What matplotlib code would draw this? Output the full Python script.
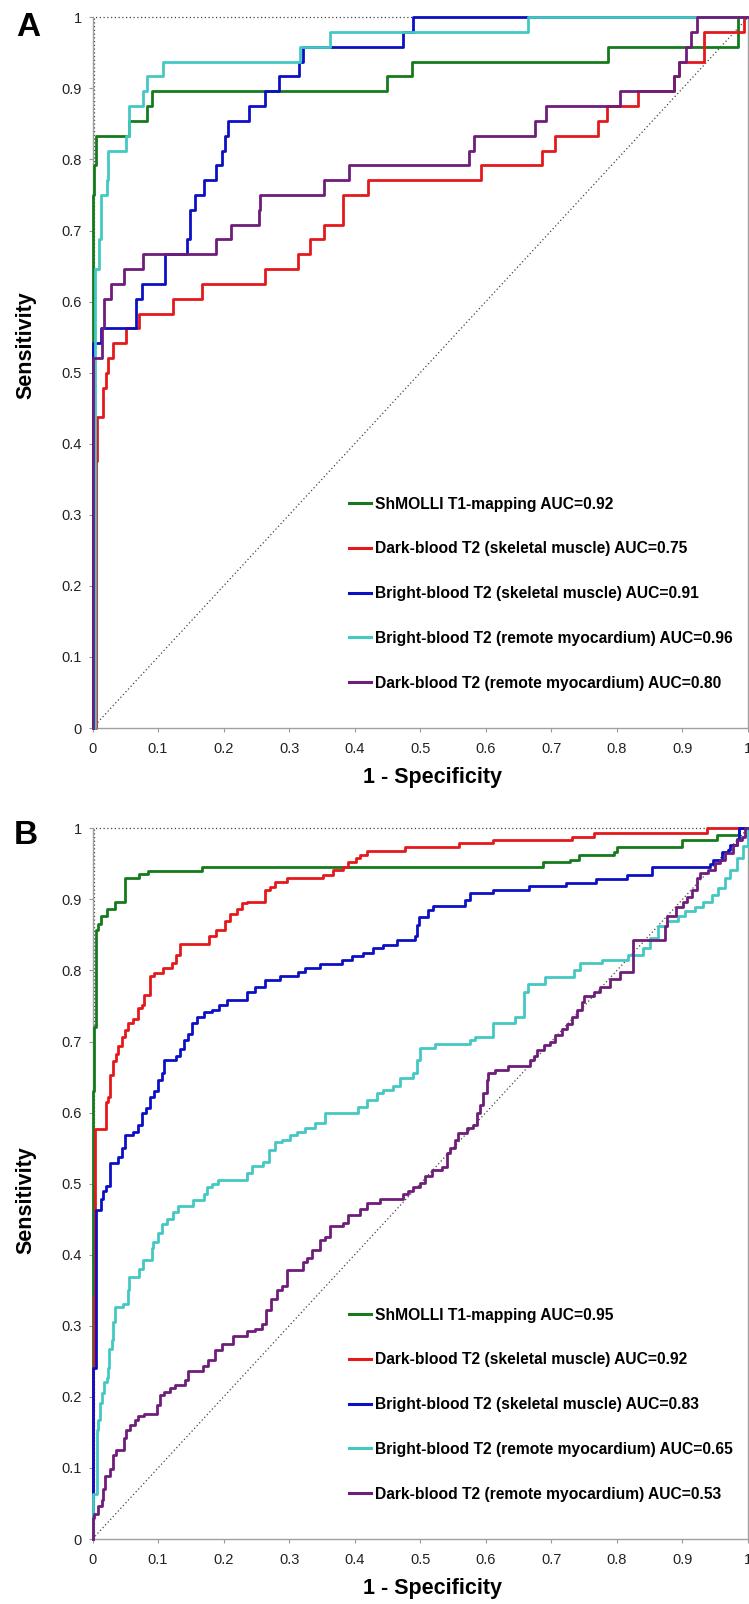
import matplotlib
matplotlib.use("Agg")
import matplotlib.pyplot as plt
from matplotlib.ticker import FuncFormatter

plt.rcParams['font.family'] = ['Liberation Sans', 'DejaVu Sans']

# Legend text and colours (same order in both panels)
methods = [
    "ShMOLLI T1-mapping",
    "Dark-blood T2 (skeletal muscle)",
    "Bright-blood T2 (skeletal muscle)",
    "Bright-blood T2 (remote myocardium)",
    "Dark-blood T2 (remote myocardium)",
]
colors = ["#157a1c", "#e3191c", "#0c10c4", "#44c8c4", "#6f1d7a"]
auc_a = ["0.92", "0.75", "0.91", "0.96", "0.80"]
auc_b = ["0.95", "0.92", "0.83", "0.65", "0.53"]
ticks = [0, 0.1, 0.2, 0.3, 0.4, 0.5, 0.6, 0.7, 0.8, 0.9, 1.0]

# ---- Panel A ROC points (1-specificity where sensitivity steps up, new sensitivity)
a_green_x = [0, 0, 0.003, 0.005, 0.055, 0.083, 0.091, 0.45, 0.487, 0.787, 0.985, 1.0]
a_green_y = [0, 0.75, 0.792, 0.833, 0.854, 0.875, 0.896, 0.917, 0.9375, 0.958, 1.0, 1.0]

a_red_x = [0, 0.005, 0.0074, 0.0165, 0.0205, 0.024, 0.0307, 0.051, 0.0715, 0.1233,
           0.1666, 0.2632, 0.314, 0.3318, 0.3537, 0.3826, 0.4208, 0.5927, 0.685, 0.7056,
           0.7717, 0.7854, 0.8327, 0.887, 0.895, 0.933, 0.994, 1.0]
a_red_y = [0, 0.375, 0.4375, 0.479, 0.5, 0.521, 0.542, 0.5625, 0.583, 0.604,
           0.625, 0.646, 0.667, 0.6875, 0.708, 0.75, 0.771, 0.792, 0.8125, 0.833,
           0.854, 0.875, 0.896, 0.917, 0.9375, 0.979, 1.0, 1.0]

a_blue_x = [0, 0.001, 0.013, 0.067, 0.075, 0.110, 0.1437, 0.149, 0.156, 0.170, 0.1884,
            0.197, 0.2022, 0.207, 0.2393, 0.2632, 0.285, 0.3156, 0.3207, 0.474, 0.4885, 1.0]
a_blue_y = [0, 0.542, 0.5625, 0.604, 0.625, 0.667, 0.6875, 0.729, 0.75, 0.771, 0.792,
            0.8125, 0.833, 0.854, 0.875, 0.896, 0.917, 0.9375, 0.958, 0.979, 1.0, 1.0]

a_cyan_x = [0, 0.004, 0.0099, 0.013, 0.0216, 0.024, 0.051, 0.056, 0.0766, 0.0834,
            0.107, 0.3166, 0.362, 0.665, 1.0]
a_cyan_y = [0, 0.646, 0.6875, 0.75, 0.771, 0.8125, 0.833, 0.875, 0.896, 0.917,
            0.9375, 0.958, 0.979, 1.0, 1.0]

a_purple_x = [0, 0.001, 0.0145, 0.0183, 0.028, 0.0483, 0.0766, 0.1884, 0.2114, 0.254,
              0.2556, 0.3537, 0.3918, 0.5744, 0.582, 0.675, 0.692, 0.8047, 0.887, 0.895,
              0.905, 0.913, 0.9227, 1.0]
a_purple_y = [0, 0.521, 0.5625, 0.604, 0.625, 0.646, 0.667, 0.6875, 0.708, 0.729,
              0.75, 0.771, 0.792, 0.8125, 0.833, 0.854, 0.875, 0.896, 0.917, 0.9375,
              0.958, 0.979, 1.0, 1.0]

# ---- Panel B ROC points
b_green_x = [0, 0, 0.002, 0.005, 0.009, 0.0125, 0.0216, 0.0348, 0.0489, 0.050, 0.0715,
             0.0842, 0.1666, 0.6877, 0.728, 0.742, 0.7948, 0.80, 0.8988, 0.90, 0.9523,
             0.9857, 1.0]
b_green_y = [0, 0.63, 0.72, 0.857, 0.865, 0.876, 0.886, 0.897, 0.907, 0.930, 0.936,
             0.940, 0.946, 0.952, 0.956, 0.9625, 0.967, 0.974, 0.980, 0.9835, 0.9906,
             1.0, 1.0]

b_red_x = [0, 0, 0.002, 0.004, 0.0206, 0.0232, 0.0267, 0.0308, 0.0359, 0.0394,
           0.0445, 0.0496, 0.0547, 0.0623, 0.069, 0.075, 0.0791, 0.0877, 0.0944, 0.107,
           0.121, 0.1274, 0.1335, 0.1777, 0.189, 0.2022, 0.2098, 0.22, 0.2276, 0.2353,
           0.263, 0.271, 0.2785, 0.2963, 0.3514, 0.3674, 0.3826, 0.3903, 0.402, 0.408,
           0.418, 0.4767, 0.5596, 0.6115, 0.731, 0.7651, 0.937, 1.0]
b_red_y = [0, 0.24, 0.34, 0.577, 0.615, 0.622, 0.653, 0.672, 0.683, 0.693,
           0.707, 0.716, 0.726, 0.731, 0.747, 0.752, 0.765, 0.792, 0.796, 0.803,
           0.810, 0.822, 0.837, 0.848, 0.857, 0.869, 0.879, 0.887, 0.8945, 0.897,
           0.913, 0.918, 0.924, 0.930, 0.934, 0.941, 0.946, 0.953, 0.958, 0.963,
           0.968, 0.973, 0.979, 0.983, 0.988, 0.994, 1.0, 1.0]

b_blue_x = [0, 0, 0.005, 0.0125, 0.016, 0.0206, 0.0267, 0.0394, 0.0445, 0.0496,
            0.0623, 0.069, 0.075, 0.0811, 0.0877, 0.0944, 0.1006, 0.1057, 0.1098, 0.1274,
            0.1335, 0.1401, 0.1462, 0.1513, 0.159, 0.1707, 0.1818, 0.1936, 0.2048, 0.2353,
            0.248, 0.263, 0.2861, 0.314, 0.3242, 0.3471, 0.3801, 0.3953, 0.413, 0.4285,
            0.4437, 0.464, 0.492, 0.4946, 0.4985, 0.5123, 0.52, 0.5683, 0.576, 0.6115,
            0.6664, 0.7224, 0.768, 0.8149, 0.8531, 0.942, 0.947, 0.9598, 0.961, 0.970,
            0.972, 0.9827, 0.9857, 1.0]
b_blue_y = [0, 0.24, 0.463, 0.479, 0.489, 0.497, 0.529, 0.537, 0.55, 0.568,
            0.572, 0.583, 0.599, 0.607, 0.622, 0.63, 0.646, 0.656, 0.674, 0.68,
            0.69, 0.702, 0.71, 0.726, 0.734, 0.742, 0.745, 0.752, 0.758, 0.770,
            0.777, 0.787, 0.792, 0.798, 0.803, 0.809, 0.815, 0.82, 0.824, 0.831,
            0.836, 0.843, 0.848, 0.864, 0.875, 0.885, 0.891, 0.899, 0.9085, 0.913,
            0.919, 0.9235, 0.928, 0.934, 0.946, 0.95, 0.955, 0.96, 0.967, 0.97,
            0.977, 0.985, 1.0, 1.0]

b_cyan_x = [0, 0, 0.0064, 0.0089, 0.0114, 0.0140, 0.0180, 0.0216, 0.0242, 0.0257,
            0.0292, 0.0318, 0.0343, 0.0470, 0.0547, 0.0562, 0.0715, 0.0776, 0.0903, 0.0918,
            0.1006, 0.1057, 0.1133, 0.1233, 0.1310, 0.1529, 0.1702, 0.1743, 0.1820, 0.1922,
            0.2364, 0.2430, 0.2599, 0.2700, 0.2785, 0.2887, 0.3014, 0.3116, 0.3243, 0.3395,
            0.3548, 0.4057, 0.4184, 0.4337, 0.4437, 0.4590, 0.4691, 0.4895, 0.4946, 0.4997,
            0.5225, 0.5760, 0.5836, 0.6115, 0.6447, 0.6575, 0.6590, 0.6649, 0.6903, 0.7346,
            0.7437, 0.7768, 0.8174, 0.8403, 0.8505, 0.8632, 0.8759, 0.8937, 0.9039, 0.9192,
            0.9319, 0.9447, 0.9548, 0.9650, 0.9726, 0.9827, 0.9929, 1.0]
b_cyan_y = [0, 0.064, 0.153, 0.168, 0.191, 0.205, 0.221, 0.226, 0.240, 0.268,
            0.280, 0.305, 0.326, 0.331, 0.350, 0.369, 0.380, 0.393, 0.410, 0.418,
            0.430, 0.443, 0.450, 0.460, 0.468, 0.477, 0.486, 0.495, 0.500, 0.505,
            0.515, 0.525, 0.530, 0.547, 0.559, 0.562, 0.568, 0.572, 0.578, 0.585,
            0.600, 0.608, 0.618, 0.627, 0.632, 0.637, 0.648, 0.655, 0.674, 0.691,
            0.697, 0.702, 0.706, 0.726, 0.735, 0.744, 0.770, 0.781, 0.791, 0.801,
            0.810, 0.815, 0.822, 0.831, 0.845, 0.862, 0.870, 0.876, 0.883, 0.889,
            0.897, 0.906, 0.916, 0.930, 0.941, 0.958, 0.975, 1.0]

b_purple_x = [0, 0, 0.0027, 0.0089, 0.0140, 0.0165, 0.0190, 0.0267, 0.0308, 0.0359,
              0.0486, 0.0511, 0.0572, 0.0648, 0.0699, 0.0786, 0.0979, 0.1030, 0.1098, 0.1182,
              0.1258, 0.1411, 0.1462, 0.1691, 0.1767, 0.1869, 0.1971, 0.2149, 0.2353, 0.2480,
              0.2581, 0.2647, 0.2718, 0.2810, 0.2886, 0.2973, 0.3217, 0.3268, 0.3344, 0.3471,
              0.3548, 0.3624, 0.3826, 0.3903, 0.4080, 0.4182, 0.4386, 0.4740, 0.4820, 0.4895,
              0.4997, 0.5073, 0.5175, 0.5328, 0.5403, 0.5454, 0.5530, 0.5581, 0.5709, 0.5810,
              0.5861, 0.5912, 0.5963, 0.6013, 0.6039, 0.6140, 0.6344, 0.6677, 0.6728, 0.6779,
              0.6880, 0.6982, 0.7059, 0.7160, 0.7237, 0.7313, 0.7390, 0.7466, 0.7492, 0.7646,
              0.7746, 0.7900, 0.8050, 0.8252, 0.8733, 0.8760, 0.8901, 0.9012, 0.9063, 0.9140,
              0.9216, 0.9267, 0.9394, 0.9497, 0.9573, 0.9650, 0.9777, 0.9827, 0.9903, 0.9954,
              1.0]
b_purple_y = [0, 0.029, 0.035, 0.046, 0.055, 0.071, 0.088, 0.099, 0.118, 0.125,
              0.142, 0.153, 0.160, 0.167, 0.173, 0.176, 0.189, 0.203, 0.207, 0.212,
              0.216, 0.224, 0.237, 0.243, 0.252, 0.266, 0.274, 0.285, 0.292, 0.296,
              0.303, 0.322, 0.337, 0.350, 0.356, 0.379, 0.390, 0.396, 0.407, 0.421,
              0.425, 0.440, 0.444, 0.456, 0.465, 0.473, 0.479, 0.485, 0.489, 0.495,
              0.501, 0.511, 0.519, 0.524, 0.543, 0.550, 0.561, 0.571, 0.578, 0.583,
              0.599, 0.611, 0.627, 0.646, 0.655, 0.660, 0.665, 0.674, 0.680, 0.688,
              0.695, 0.700, 0.709, 0.717, 0.725, 0.735, 0.745, 0.756, 0.764, 0.770,
              0.777, 0.788, 0.798, 0.843, 0.862, 0.876, 0.889, 0.897, 0.904, 0.913,
              0.930, 0.937, 0.941, 0.951, 0.956, 0.965, 0.977, 0.984, 0.988, 1.0,
              1.0]

curves_a = [(a_green_x, a_green_y), (a_red_x, a_red_y), (a_blue_x, a_blue_y),
            (a_cyan_x, a_cyan_y), (a_purple_x, a_purple_y)]
curves_b = [(b_green_x, b_green_y), (b_red_x, b_red_y), (b_blue_x, b_blue_y),
            (b_cyan_x, b_cyan_y), (b_purple_x, b_purple_y)]


def draw_panel(ax, curves, aucs):
    # reference lines: chance diagonal and perfect test
    ax.plot([0, 1], [0, 1], color="#444444", lw=0.9, ls=(0, (1, 2)), zorder=1)
    ax.plot([0.003, 0.003, 1], [0, 1, 1], color="#444444", lw=0.9, ls=(0, (1, 2)),
            zorder=1, clip_on=False)

    for (fx, sy), col, name, auc in zip(curves, colors, methods, aucs):
        ax.plot(fx, sy, drawstyle="steps-post", color=col, lw=2.0,
                label=f"{name} AUC={auc}", clip_on=False, zorder=3)

    ax.set_xlim(0, 1)
    ax.set_ylim(0, 1)
    ax.set_xticks(ticks)
    ax.set_yticks(ticks)
    fmt = FuncFormatter(lambda v, p: "%g" % v)
    ax.xaxis.set_major_formatter(fmt)
    ax.yaxis.set_major_formatter(fmt)
    ax.tick_params(axis="both", direction="out", length=3, width=0.8,
                   color="#999999", labelcolor="#222222", labelsize=10.5)
    ax.tick_params(axis="y", pad=4.5)
    ax.tick_params(axis="x", pad=7)
    ax.spines["top"].set_visible(False)
    for side in ["left", "bottom", "right"]:
        ax.spines[side].set_color("#a0a0a0")
        ax.spines[side].set_linewidth(1.0)

    leg = ax.legend(loc="center left", bbox_to_anchor=(0.391, 0.189),
                    frameon=False, handlelength=1.45, handletextpad=0.25,
                    labelspacing=1.9, borderpad=0, borderaxespad=0,
                    prop={"weight": "bold", "size": 11.25})
    for line in leg.get_lines():
        line.set_linewidth(2.2)


fig = plt.figure(figsize=(7.49, 16.04), dpi=100)
ax_a = fig.add_axes([0.1235, 0.54613, 0.8752, 0.44308])
ax_b = fig.add_axes([0.1235, 0.04052, 0.8752, 0.44308])

draw_panel(ax_a, curves_a, auc_a)
draw_panel(ax_b, curves_b, auc_b)

# panel letters and axis titles
fig.text(28 / 749, 1 - 27.5 / 1604, "A", fontsize=24, fontweight="bold",
         ha="center", va="center")
fig.text(26 / 749, 1 - 835.5 / 1604, "B", fontsize=24, fontweight="bold",
         ha="center", va="center")
fig.text(25.5 / 749, 1 - 345 / 1604, "Sensitivity", fontsize=15.5, fontweight="bold",
         rotation=90, ha="center", va="center")
fig.text(25.5 / 749, 1 - 1200 / 1604, "Sensitivity", fontsize=15.5, fontweight="bold",
         rotation=90, ha="center", va="center")
fig.text(432.5 / 749, 1 - 783 / 1604, "1 - Specificity", fontsize=15.5,
         fontweight="bold", ha="center", va="baseline")
fig.text(432.5 / 749, 1 - 1594 / 1604, "1 - Specificity", fontsize=15.5,
         fontweight="bold", ha="center", va="baseline")

fig.savefig("out.png", dpi=100)
